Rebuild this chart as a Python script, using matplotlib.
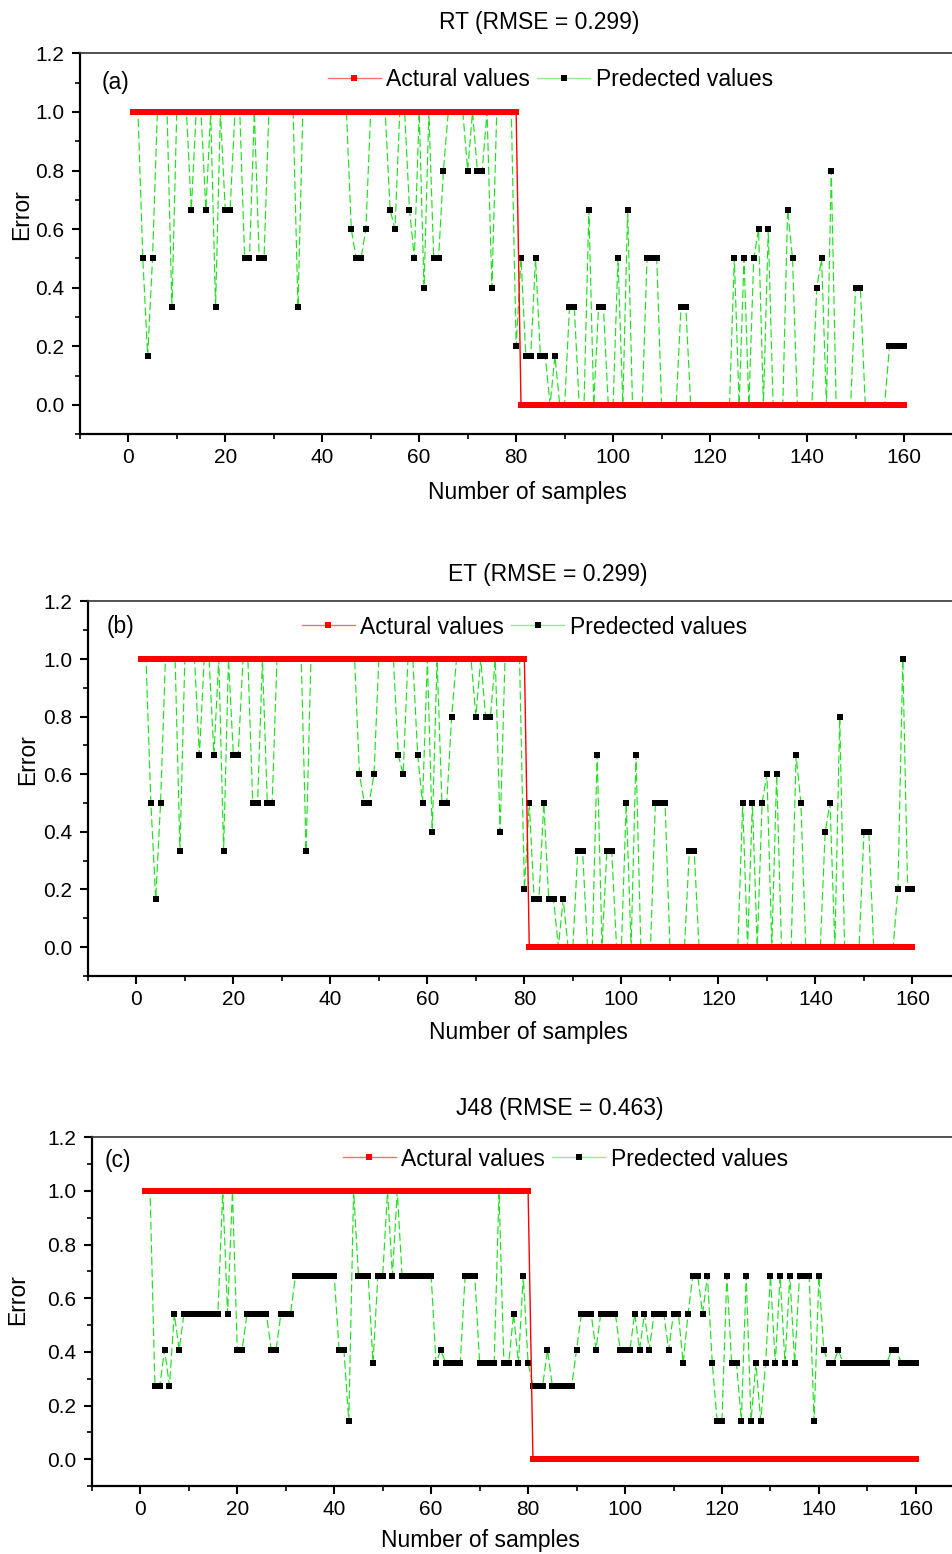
import numpy as np
import matplotlib
matplotlib.use('Agg')
import matplotlib.pyplot as plt
from matplotlib.lines import Line2D
from matplotlib.ticker import MultipleLocator

plt.rcParams['font.family'] = ['Liberation Sans', 'DejaVu Sans']

# sample index 1..160
samples = np.arange(1, 161)

actual = [1, 1, 1, 1, 1, 1, 1, 1, 1, 1, 1, 1, 1, 1, 1, 1, 1, 1, 1, 1,
          1, 1, 1, 1, 1, 1, 1, 1, 1, 1, 1, 1, 1, 1, 1, 1, 1, 1, 1, 1,
          1, 1, 1, 1, 1, 1, 1, 1, 1, 1, 1, 1, 1, 1, 1, 1, 1, 1, 1, 1,
          1, 1, 1, 1, 1, 1, 1, 1, 1, 1, 1, 1, 1, 1, 1, 1, 1, 1, 1, 1,
          0, 0, 0, 0, 0, 0, 0, 0, 0, 0, 0, 0, 0, 0, 0, 0, 0, 0, 0, 0,
          0, 0, 0, 0, 0, 0, 0, 0, 0, 0, 0, 0, 0, 0, 0, 0, 0, 0, 0, 0,
          0, 0, 0, 0, 0, 0, 0, 0, 0, 0, 0, 0, 0, 0, 0, 0, 0, 0, 0, 0,
          0, 0, 0, 0, 0, 0, 0, 0, 0, 0, 0, 0, 0, 0, 0, 0, 0, 0, 0, 0]

rt_pred = [1, 1, 0.5, 0.167, 0.5, 1, 1, 1, 0.333, 1, 1, 1, 0.667, 1, 1, 0.667, 1, 0.333, 1, 0.667,
           0.667, 1, 1, 0.5, 0.5, 1, 0.5, 0.5, 1, 1, 1, 1, 1, 1, 0.333, 1, 1, 1, 1, 1,
           1, 1, 1, 1, 1, 0.6, 0.5, 0.5, 0.6, 1, 1, 1, 1, 0.667, 0.6, 1, 1, 0.667, 0.5, 1,
           0.4, 1, 0.5, 0.5, 0.8, 1, 1, 1, 1, 0.8, 1, 0.8, 0.8, 1, 0.4, 1, 1, 1, 1, 0.2,
           0.5, 0.167, 0.167, 0.5, 0.167, 0.167, 0, 0.167, 0, 0, 0.333, 0.333, 0, 0, 0.667, 0, 0.333, 0.333, 0, 0,
           0.5, 0, 0.667, 0, 0, 0, 0.5, 0.5, 0.5, 0, 0, 0, 0, 0.333, 0.333, 0, 0, 0, 0, 0,
           0, 0, 0, 0, 0.5, 0, 0.5, 0, 0.5, 0.6, 0, 0.6, 0, 0, 0, 0.667, 0.5, 0, 0, 0,
           0, 0.4, 0.5, 0, 0.8, 0, 0, 0, 0, 0.4, 0.4, 0, 0, 0, 0, 0, 0.2, 0.2, 0.2, 0.2]

et_pred = [1, 1, 0.5, 0.167, 0.5, 1, 1, 1, 0.333, 1, 1, 1, 0.667, 1, 1, 0.667, 1, 0.333, 1, 0.667,
           0.667, 1, 1, 0.5, 0.5, 1, 0.5, 0.5, 1, 1, 1, 1, 1, 1, 0.333, 1, 1, 1, 1, 1,
           1, 1, 1, 1, 1, 0.6, 0.5, 0.5, 0.6, 1, 1, 1, 1, 0.667, 0.6, 1, 1, 0.667, 0.5, 1,
           0.4, 1, 0.5, 0.5, 0.8, 1, 1, 1, 1, 0.8, 1, 0.8, 0.8, 1, 0.4, 1, 1, 1, 1, 0.2,
           0.5, 0.167, 0.167, 0.5, 0.167, 0.167, 0, 0.167, 0, 0, 0.333, 0.333, 0, 0, 0.667, 0, 0.333, 0.333, 0, 0,
           0.5, 0, 0.667, 0, 0, 0, 0.5, 0.5, 0.5, 0, 0, 0, 0, 0.333, 0.333, 0, 0, 0, 0, 0,
           0, 0, 0, 0, 0.5, 0, 0.5, 0, 0.5, 0.6, 0, 0.6, 0, 0, 0, 0.667, 0.5, 0, 0, 0,
           0, 0.4, 0.5, 0, 0.8, 0, 0, 0, 0, 0.4, 0.4, 0, 0, 0, 0, 0, 0.2, 1, 0.2, 0.2]

j48_pred = [1, 1, 0.274, 0.274, 0.408, 0.274, 0.543, 0.408, 0.543, 0.543, 0.543, 0.543, 0.543, 0.543, 0.543, 0.543, 1, 0.543, 1, 0.408,
            0.408, 0.543, 0.543, 0.543, 0.543, 0.543, 0.408, 0.408, 0.543, 0.543, 0.543, 0.684, 0.684, 0.684, 0.684, 0.684, 0.684, 0.684, 0.684, 0.684,
            0.408, 0.408, 0.143, 1, 0.684, 0.684, 0.684, 0.358, 0.684, 0.684, 1, 0.684, 1, 0.684, 0.684, 0.684, 0.684, 0.684, 0.684, 0.684,
            0.358, 0.408, 0.358, 0.358, 0.358, 0.358, 0.684, 0.684, 0.684, 0.358, 0.358, 0.358, 0.358, 1, 0.358, 0.358, 0.543, 0.358, 0.684, 0.358,
            0.274, 0.274, 0.274, 0.408, 0.274, 0.274, 0.274, 0.274, 0.274, 0.408, 0.543, 0.543, 0.543, 0.408, 0.543, 0.543, 0.543, 0.543, 0.408, 0.408,
            0.408, 0.543, 0.408, 0.543, 0.408, 0.543, 0.543, 0.543, 0.408, 0.543, 0.543, 0.358, 0.543, 0.684, 0.684, 0.543, 0.684, 0.358, 0.143, 0.143,
            0.684, 0.358, 0.358, 0.143, 0.684, 0.143, 0.358, 0.143, 0.358, 0.684, 0.358, 0.684, 0.358, 0.684, 0.358, 0.684, 0.684, 0.684, 0.143, 0.684,
            0.408, 0.358, 0.358, 0.408, 0.358, 0.358, 0.358, 0.358, 0.358, 0.358, 0.358, 0.358, 0.358, 0.358, 0.408, 0.408, 0.358, 0.358, 0.358, 0.358]

titles = ['RT (RMSE = 0.299)', 'ET (RMSE = 0.299)', 'J48 (RMSE = 0.463)']
tags = ['(a)', '(b)', '(c)']
predictions = [rt_pred, et_pred, j48_pred]

W, H = 952, 1554
fig = plt.figure(figsize=(W / 100, H / 100), dpi=100)


def fx(x):
    return x / W


def fy(y):
    return 1 - y / H


# pixel boxes of each axes: left, right, top, bottom
boxes = [(79.8, 952.5, 53.3, 434.3), (87.8, 961.0, 601.4, 975.8), (91.9, 964.3, 1137.3, 1486.1)]
title_pos = [(539, 22), (548, 575), (560, 1108)]
xlabel_pos = [(527, 493), (528, 1032), (480, 1540)]
ylabel_pos = [(22, 215), (28, 760), (18, 1300)]
legend_pos = [(328, 80), (302, 627), (343, 1159)]
tag_pos = [(102, 82), (107, 627), (105, 1160)]

green = '#22e022'

for i in range(3):
    l, r, t, b = boxes[i]
    ax = fig.add_axes([fx(l), fy(b), (r - l) / W, (b - t) / H])

    # predicted values (green dashed with black squares)
    ax.plot(samples, predictions[i], color=green, lw=0.85, ls=(0, (7, 3)),
            marker='s', ms=4.2, mfc='black', mec='black', mew=0, zorder=2)
    # actual values (red squares, thin red line)
    ax.plot(samples, actual, color='red', lw=1.0, marker='s', ms=4.5,
            mfc='red', mec='red', mew=0, zorder=3)

    ax.set_xlim(-10, 170)
    ax.set_ylim(-0.1, 1.2)
    ax.xaxis.set_major_locator(MultipleLocator(20))
    ax.xaxis.set_minor_locator(MultipleLocator(10))
    ax.yaxis.set_minor_locator(MultipleLocator(0.1))
    ax.set_yticks([0, 0.2, 0.4, 0.6, 0.8, 1.0, 1.2])
    ax.set_yticklabels(['0.0', '0.2', '0.4', '0.6', '0.8', '1.0', '1.2'])
    ax.tick_params(which='both', direction='out', top=False, right=False, labelsize=15)
    ax.tick_params(which='major', length=6, width=1.5)
    ax.tick_params(which='minor', length=3.5, width=1.2)
    ax.tick_params(axis='y', pad=5)
    ax.tick_params(axis='x', pad=4)
    for s in ['left', 'bottom']:
        ax.spines[s].set_linewidth(1.6)
    for s in ['top', 'right']:
        ax.spines[s].set_linewidth(1.2)
        ax.spines[s].set_color('#333333')

    ax.text(fx(tag_pos[i][0]), fy(tag_pos[i][1]), tags[i], transform=fig.transFigure,
            ha='left', va='center', fontsize=16.5)

    handles = [Line2D([], [], color='#ff7070', lw=1, marker='s', ms=4.5, mfc='red', mec='red', mew=0),
               Line2D([], [], color='#90ee90', lw=1, marker='s', ms=4, mfc='black', mec='black', mew=0)]
    ax.legend(handles, ['Actural values', 'Predected values'], ncol=2, frameon=False,
              loc='center left', bbox_to_anchor=(fx(legend_pos[i][0]), fy(legend_pos[i][1])),
              bbox_transform=fig.transFigure, borderpad=0, borderaxespad=0,
              handlelength=2.3, handletextpad=0.25, columnspacing=0.3, fontsize=16.5)

    fig.text(fx(title_pos[i][0]), fy(title_pos[i][1]), titles[i], ha='center', va='center', fontsize=16.5)
    fig.text(fx(xlabel_pos[i][0]), fy(xlabel_pos[i][1]), 'Number of samples', ha='center', va='center', fontsize=16.5)
    fig.text(fx(ylabel_pos[i][0]), fy(ylabel_pos[i][1]), 'Error', ha='center', va='center',
             rotation=90, fontsize=16.5)

fig.savefig('out.png', dpi=100)
